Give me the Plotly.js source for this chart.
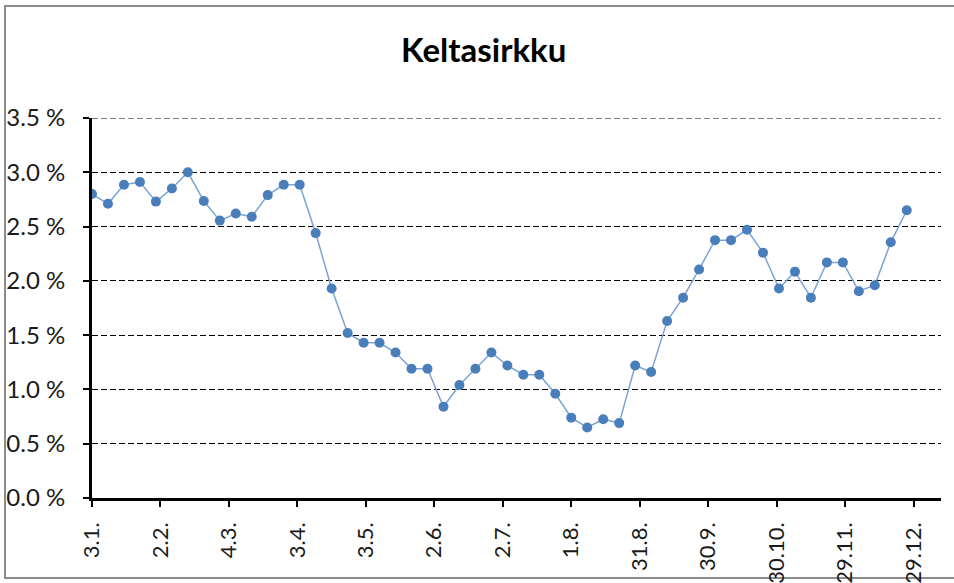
<!DOCTYPE html>
<html>
<head>
<meta charset="utf-8">
<script src="https://cdn.plot.ly/plotly-3.0.1.min.js"></script>
<style>
html, body { margin: 0; padding: 0; background: #fff; overflow: hidden; }
#frame { position: absolute; left: 4px; top: 5px; width: 970px; height: 574px; border: 2px solid #8c8c8c; box-sizing: border-box; }
#chart { position: absolute; left: 0; top: 0; width: 954px; height: 583px; }
</style>
</head>
<body>
<div id="frame"></div>
<div id="chart"></div>
<script>
const chartTitle = "Keltasirkku";

const weekDates = [
  "2019-01-03","2019-01-10","2019-01-17","2019-01-24","2019-01-31",
  "2019-02-07","2019-02-14","2019-02-21","2019-02-28",
  "2019-03-07","2019-03-14","2019-03-21","2019-03-28",
  "2019-04-04","2019-04-11","2019-04-18","2019-04-25",
  "2019-05-02","2019-05-09","2019-05-16","2019-05-23","2019-05-30",
  "2019-06-06","2019-06-13","2019-06-20","2019-06-27",
  "2019-07-04","2019-07-11","2019-07-18","2019-07-25",
  "2019-08-01","2019-08-08","2019-08-15","2019-08-22","2019-08-29",
  "2019-09-05","2019-09-12","2019-09-19","2019-09-26",
  "2019-10-03","2019-10-10","2019-10-17","2019-10-24","2019-10-31",
  "2019-11-07","2019-11-14","2019-11-21","2019-11-28",
  "2019-12-05","2019-12-12","2019-12-19","2019-12-26"
];

const sharePercent = [
  2.80, 2.71, 2.885, 2.91, 2.73, 2.85, 3.00, 2.735, 2.555, 2.62,
  2.59, 2.79, 2.885, 2.885, 2.44, 1.93, 1.52, 1.43, 1.43, 1.34,
  1.19, 1.19, 0.84, 1.04, 1.19, 1.34, 1.22, 1.135, 1.135, 0.96,
  0.74, 0.65, 0.725, 0.69, 1.22, 1.16, 1.63, 1.845, 2.105, 2.375,
  2.375, 2.47, 2.26, 1.93, 2.085, 1.845, 2.17, 2.17, 1.905, 1.96,
  2.355, 2.65
];

const xTickDates = [
  "2019-01-03","2019-02-02","2019-03-04","2019-04-03","2019-05-03",
  "2019-06-02","2019-07-02","2019-08-01","2019-08-31","2019-09-30",
  "2019-10-30","2019-11-29","2019-12-29"
];
const xTickLabels = [
  "3.1.","2.2.","4.3.","3.4.","3.5.","2.6.","2.7.","1.8.","31.8.","30.9.",
  "30.10.","29.11.","29.12."
];

const yTickValues = [0, 0.5, 1.0, 1.5, 2.0, 2.5, 3.0, 3.5];
const yTickLabels = ["0.0 %","0.5 %","1.0 %","1.5 %","2.0 %","2.5 %","3.0 %","3.5 %"];
const yMax = 3.5;

const fontFamily = "Lato, 'Open Sans', sans-serif";

const trace = {
  type: "scatter",
  mode: "lines+markers",
  x: weekDates,
  y: sharePercent,
  line: { color: "#7aa3d6", width: 1.5 },
  marker: { color: "#4a7ebb", size: 10 },
  hoverinfo: "x+y"
};

const layout = {
  width: 954,
  height: 583,
  paper_bgcolor: "rgba(0,0,0,0)",
  plot_bgcolor: "rgba(0,0,0,0)",
  margin: { l: 92, r: 13, t: 118, b: 85, pad: 0 },
  showlegend: false,
  title: {
    text: "<b>" + chartTitle + "</b>",
    font: { family: fontFamily, size: 33, color: "#000" },
    xref: "container", yref: "container",
    x: 0.507, xanchor: "center",
    y: 0.914, yanchor: "middle"
  },
  shapes: [{
    type: "line", xref: "paper", yref: "y",
    x0: 0, x1: 1, y0: yMax, y1: yMax,
    line: { color: "#000", width: 1, dash: "6px,3px" },
    layer: "below"
  }],
  xaxis: {
    type: "date",
    range: ["2019-01-03", "2020-01-10"],
    tickmode: "array",
    tickvals: xTickDates,
    ticktext: xTickLabels,
    tickangle: -90,
    ticks: "outside",
    ticklen: 6,
    tickwidth: 2,
    tickcolor: "#000",
    ticklabelstandoff: 7,
    showline: true,
    linecolor: "#000",
    linewidth: 2.5,
    showgrid: false,
    zeroline: false,
    tickfont: { family: fontFamily, size: 22, color: "#1a1a1a" },
    fixedrange: true
  },
  yaxis: {
    range: [0, yMax],
    tickmode: "array",
    tickvals: yTickValues,
    ticktext: yTickLabels,
    ticks: "outside",
    ticklen: 6,
    tickwidth: 2,
    tickcolor: "#000",
    ticklabelstandoff: 13,
    showline: true,
    linecolor: "#000",
    linewidth: 3,
    showgrid: true,
    gridcolor: "#000",
    gridwidth: 1,
    griddash: "6px,3px",
    zeroline: false,
    tickfont: { family: fontFamily, size: 24, color: "#1a1a1a" },
    fixedrange: true
  }
};

Plotly.newPlot("chart", [trace], layout, { displayModeBar: false, staticPlot: true });
</script>
</body>
</html>
